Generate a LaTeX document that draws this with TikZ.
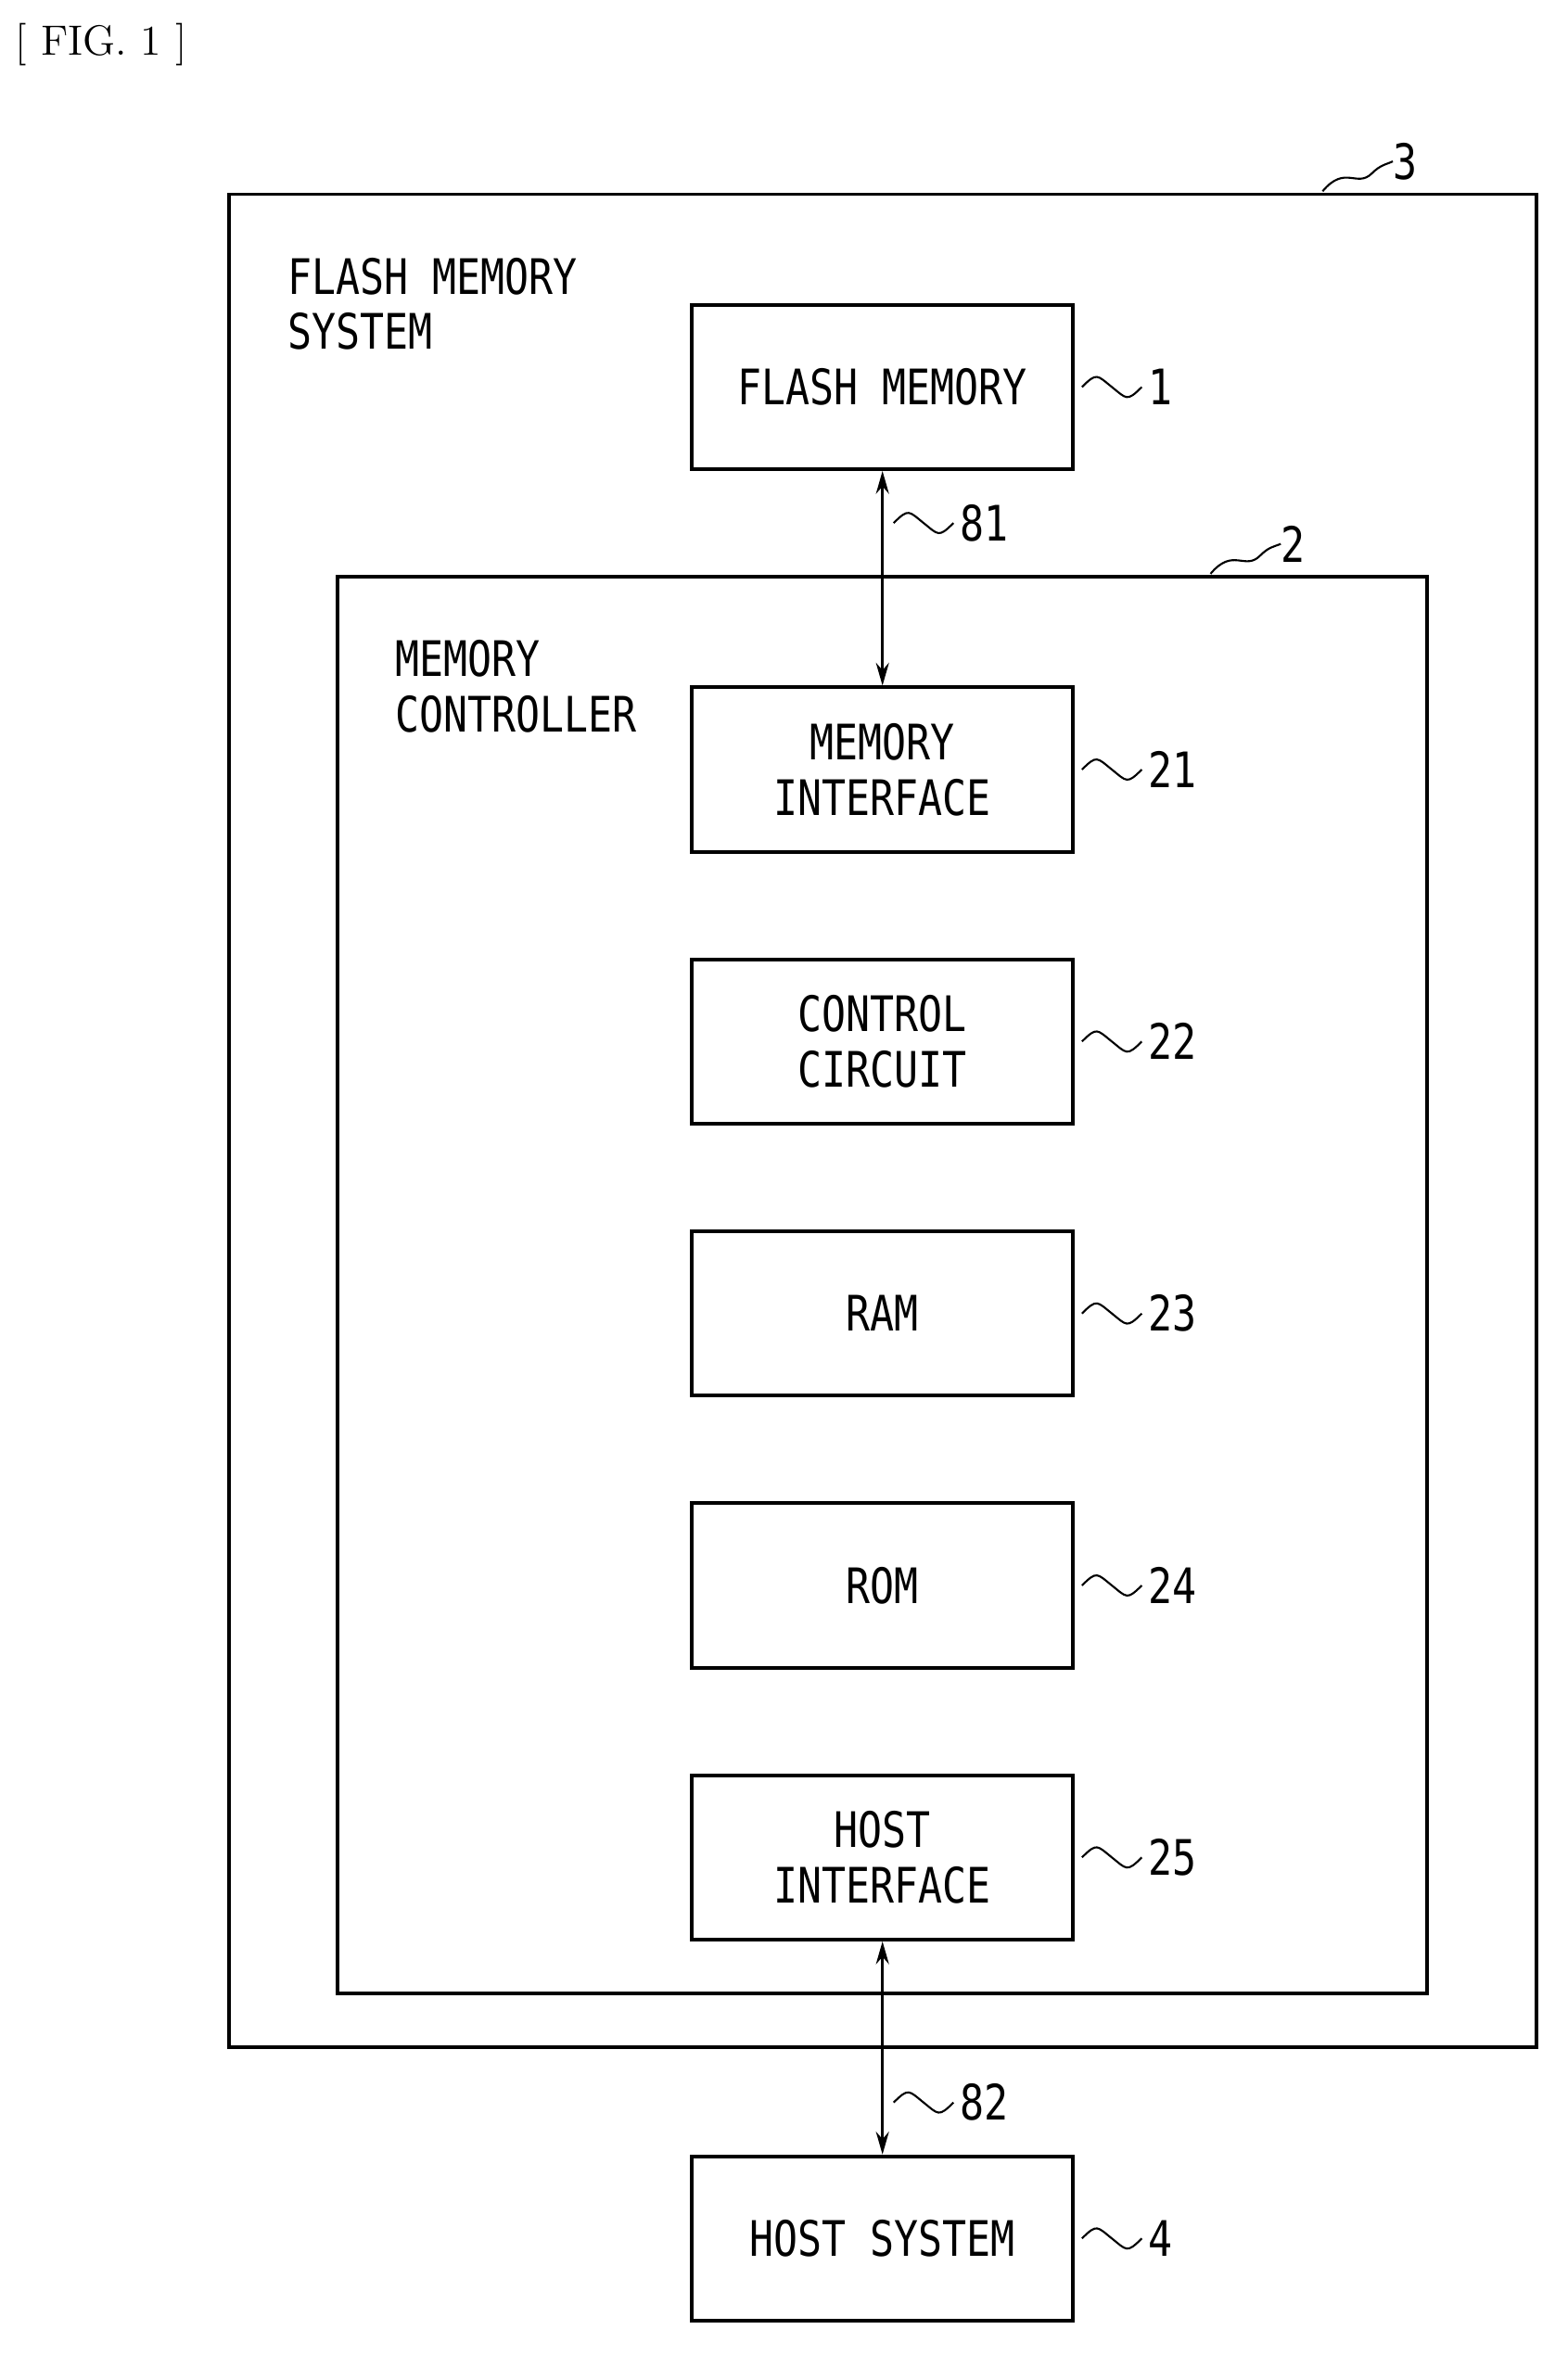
\documentclass[tikz,border=0pt]{standalone}
\usepackage{fontspec}
\newfontfamily\lab[FakeStretch=0.82]{DejaVu Sans Mono}
\usetikzlibrary{arrows.meta}
\begin{document}
\begin{tikzpicture}[x=0.01611cm,y=-0.01611cm,
  box/.style={draw,line width=1.1pt,minimum width=255*0.01611cm,minimum height=110*0.01611cm,align=center,font=\lab\fontsize{15}{17}\selectfont,inner sep=0pt},
  txt/.style={font=\lab\fontsize{15}{17}\selectfont,inner sep=0pt},
  num/.style={font=\lab\fontsize{15}{17}\selectfont,inner sep=0pt,anchor=west},
  frame/.style={draw,line width=1.1pt},
  arr/.style={{Stealth[length=7pt,width=4pt]}-{Stealth[length=7pt,width=4pt]},line width=0.7pt},
  sq/.style={line width=0.6pt}]
\useasboundingbox (0,0) rectangle (1049,1576);
\node[txt,anchor=west,font=\fontsize{13}{15}\selectfont] (fig) at (10,30) {[ FIG. 1 ]};
\draw[frame] (153,130) rectangle (1028,1370);
\draw[frame] (226,386) rectangle (955,1334);
\node[txt,anchor=north west,align=left] (fms) at (192,172) {FLASH MEMORY\\SYSTEM};
\node[txt,anchor=north west,align=left] (mc) at (264,428) {MEMORY\\CONTROLLER};
\node[box] (b1) at (590.5,259) {FLASH MEMORY};
\node[box] (b21) at (590.5,515) {MEMORY\\INTERFACE};
\node[box] (b22) at (590.5,697) {CONTROL\\CIRCUIT};
\node[box] (b23) at (590.5,879) {RAM};
\node[box] (b24) at (590.5,1061) {ROM};
\node[box] (b25) at (590.5,1243) {HOST\\INTERFACE};
\node[box] (b4) at (590.5,1498) {HOST SYSTEM};
\draw[arr] (b1.south) -- (b21.north);
\draw[arr] (b25.south) -- (b4.north);
\newcommand\wav[3]{\draw[sq] (#1,#2) .. controls +(#3/4,-10) and +(-#3/4,-8) .. +(#3/2,0) .. controls +(#3/4,8) and +(-#3/4,10) .. +(#3,0);}
\node[num] (n3) at (932,108) {3};
\draw[sq] (885,128) .. controls (900,110) and (908,126) .. (918,116) .. controls (924,110) and (928,110) .. (n3.west);
\node[num] (n2) at (857,364) {2};
\draw[sq] (810,384) .. controls (825,366) and (833,382) .. (843,372) .. controls (849,366) and (852,366) .. (n2.west);
\node[num] (n1) at (768,259) {1};
\node[num] (n81) at (642,350) {81};
\node[num] (n21) at (768,515) {21};
\node[num] (n22) at (768,697) {22};
\node[num] (n23) at (768,879) {23};
\node[num] (n24) at (768,1061) {24};
\node[num] (n25) at (768,1243) {25};
\node[num] (n82) at (642,1407) {82};
\node[num] (n4) at (768,1498) {4};
\foreach \y in {259,515,697,879,1061,1243,1498}{\wav{724}{\y}{40}}
\wav{598}{350}{40}
\wav{598}{1407}{40}
\end{tikzpicture}
\end{document}
